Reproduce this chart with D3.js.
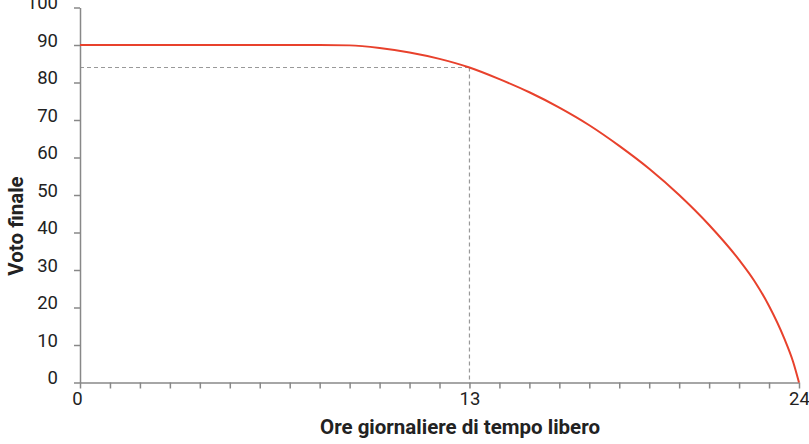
<!DOCTYPE html>
<html lang="it">
<head>
    <meta charset="UTF-8">
    <title>Voto finale e tempo libero</title>
    <script src="https://d3js.org/d3.v7.min.js"></script>
    <style>
        body { margin: 0; background: #fff; }
        .tick text { font-family: Roboto, "Noto Sans", sans-serif; font-size: 18.5px; fill: #222; }
        .axis-title { font-family: Roboto, "Noto Sans", sans-serif; font-weight: bold; font-size: 20.5px; fill: #222; }
    </style>
</head>
<body>
    <div id="chart"></div>
    <script>
        // ore di tempo libero (x) e voto finale (y)
        const hours  = [0, 8, 9, 10, 11, 12, 13, 14, 15, 16, 17, 18, 19, 20, 21, 22, 22.5, 23, 23.5, 23.8, 24];
        const grades = [90, 90, 89.9, 89.2, 88.0, 86.3, 84, 80.9, 77.4, 73.3, 68.6, 63.1, 57.0, 50.0, 42.0, 32.7, 27.2, 20.4, 11.9, 5.6, 0];

        const xTicks = d3.range(0, 25);
        const xLabels = [0, 13, 24];
        const yTicks = [0, 10, 20, 30, 40, 50, 60, 70, 80, 90, 100];

        const chosenHours = 13, chosenGrade = 84;

        const W = 809, H = 444;
        const margin = {top: 7.5, right: 10, bottom: 61.5, left: 80};

        const svg = d3.select("#chart").append("svg")
            .attr("width", W).attr("height", H);

        const x = d3.scaleLinear().domain([0, 24]).range([margin.left, W - margin.right]);
        const y = d3.scaleLinear().domain([0, 100]).range([H - margin.bottom, margin.top]);

        // dashed guides
        svg.append("line")
            .attr("x1", x(0)).attr("x2", x(chosenHours))
            .attr("y1", y(chosenGrade)).attr("y2", y(chosenGrade))
            .attr("stroke", "#999").attr("stroke-width", 1.2).attr("stroke-dasharray", "4,3");
        svg.append("line")
            .attr("x1", x(chosenHours)).attr("x2", x(chosenHours))
            .attr("y1", y(chosenGrade)).attr("y2", y(0))
            .attr("stroke", "#999").attr("stroke-width", 1.2).attr("stroke-dasharray", "4,3");

        // x axis
        const xAxis = svg.append("g")
            .attr("transform", `translate(0,${y(0)})`)
            .call(d3.axisBottom(x).tickValues(xTicks).tickSize(6).tickSizeOuter(0)
                .tickFormat(d => xLabels.includes(d) ? d : ""));
        xAxis.select(".domain").attr("stroke", "#888").attr("stroke-width", 1.5);
        xAxis.selectAll(".tick line").attr("stroke", "#888").attr("stroke-width", 1.5);
        xAxis.selectAll(".tick text").filter(d => d === 0).attr("dx", "-3");

        // y axis
        const yAxis = svg.append("g")
            .attr("transform", `translate(${x(0)},0)`)
            .call(d3.axisLeft(y).tickValues(yTicks).tickSize(6).tickSizeOuter(0).tickPadding(16));
        yAxis.select(".domain").attr("stroke", "#888").attr("stroke-width", 1.5);
        yAxis.selectAll(".tick line").attr("stroke", "#888").attr("stroke-width", 1.5);
        yAxis.selectAll(".tick text").attr("dy", "0.08em");

        // curve
        const pts = hours.map((h, i) => [h, grades[i]]);
        svg.append("path")
            .datum(pts)
            .attr("fill", "none")
            .attr("stroke", "#e8412c")
            .attr("stroke-width", 2)
            .attr("d", d3.line().x(d => x(d[0])).y(d => y(d[1])).curve(d3.curveMonotoneX));

        // titles
        svg.append("text")
            .attr("class", "axis-title")
            .attr("x", 460).attr("y", 434)
            .attr("text-anchor", "middle")
            .text("Ore giornaliere di tempo libero");

        svg.append("text")
            .attr("class", "axis-title")
            .attr("transform", "translate(23,226) rotate(-90)")
            .attr("text-anchor", "middle")
            .text("Voto finale");
    </script>
</body>
</html>
